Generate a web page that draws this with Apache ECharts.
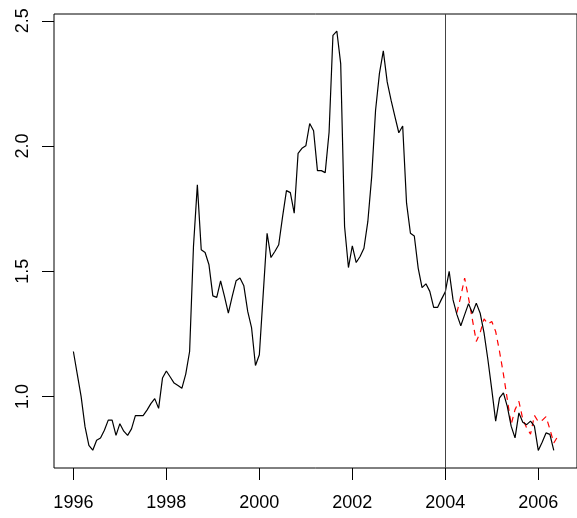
<!DOCTYPE html>
<html>
<head>
<meta charset="utf-8">
<script src="https://cdn.jsdelivr.net/npm/echarts@6/dist/echarts.min.js"></script>
<style>
  html, body { margin: 0; padding: 0; background: #fff; }
  #chart { width: 577px; height: 518px; }
</style>
</head>
<body>
<div id="chart"></div>
<script>
    // monthly series, starts Jan 1996
    const startYear = 1996;
    const freq = 12;

    // observed values (black line)
    const observed = [
        1.18, 1.09, 1.00, 0.88, 0.805, 0.786, 0.826, 0.835, 0.866, 0.906, 0.906, 0.845,
        0.892, 0.862, 0.845, 0.871, 0.924, 0.924, 0.924, 0.946, 0.972, 0.992, 0.953, 1.074,
        1.102, 1.078, 1.054, 1.044, 1.033, 1.09, 1.18, 1.60, 1.845, 1.586, 1.575, 1.526,
        1.402, 1.396, 1.462, 1.40, 1.333, 1.40, 1.462, 1.473, 1.442, 1.34, 1.274, 1.124,
        1.167, 1.41, 1.652, 1.555, 1.579, 1.606, 1.718, 1.822, 1.814, 1.732, 1.971, 1.991,
        2.001, 2.09, 2.061, 1.902, 1.902, 1.894, 2.055, 2.442, 2.459, 2.329, 1.679, 1.515,
        1.602, 1.535, 1.559, 1.592, 1.698, 1.878, 2.143, 2.29, 2.38, 2.256, 2.183, 2.117,
        2.053, 2.08, 1.772, 1.652, 1.641, 1.513, 1.435, 1.45, 1.42, 1.356, 1.356, 1.388,
        1.418, 1.50, 1.386, 1.327, 1.283, 1.327, 1.371, 1.333, 1.373, 1.333, 1.254, 1.147,
        1.028, 0.902, 0.995, 1.015, 0.961, 0.882, 0.835, 0.935, 0.898, 0.888, 0.902, 0.882,
        0.785, 0.818, 0.855, 0.849, 0.785
    ];

    // predicted values (red dashed), first point is month index 99
    const predStart = 99;
    const predicted = [
        1.335, 1.40, 1.473, 1.393, 1.307, 1.22, 1.255, 1.31, 1.29,
        1.30, 1.26, 1.18, 1.09, 0.99, 0.888, 0.948, 0.981, 0.91, 0.875, 0.85, 0.925,
        0.90, 0.905, 0.92, 0.87, 0.815, 0.84
    ];

    const xTicks = [1996, 1998, 2000, 2002, 2004, 2006];
    const yTicks = [1.0, 1.5, 2.0, 2.5];
    const splitYear = 2004;

    const toPairs = (vals, offset) => vals.map((v, i) => [startYear + (offset + i) / freq, v]);

    let myChart = echarts.init(document.getElementById("chart"));

    const font = { fontFamily: 'Liberation Sans', fontSize: 18, color: '#000' };

    let option = {
        animation: false,
        backgroundColor: '#fff',
        grid: {
            show: true,
            left: 54, top: 14, right: -1, bottom: 50,
            borderColor: '#000', borderWidth: 1,
            backgroundColor: 'transparent'
        },
        xAxis: {
            type: 'value',
            min: 1995.583, max: 2006.833,
            axisLine: { show: false },
            splitLine: { show: false },
            axisTick: { show: true, inside: false, length: 12, customValues: xTicks,
                lineStyle: { color: '#000' } },
            axisLabel: Object.assign({
                customValues: xTicks, margin: 26,
                formatter: v => String(v)
            }, font)
        },
        yAxis: {
            type: 'value',
            min: 0.715, max: 2.527,
            axisLine: { show: false },
            splitLine: { show: false },
            axisTick: { show: true, inside: false, length: 12, customValues: yTicks,
                lineStyle: { color: '#000' } },
            axisLabel: Object.assign({
                customValues: yTicks, rotate: 90, margin: 22,
                formatter: v => v.toFixed(1)
            }, font)
        },
        series: [
            {
                type: 'line',
                data: toPairs(observed, 0),
                showSymbol: false,
                lineStyle: { color: '#000', width: 1.2 },
                z: 3,
                markLine: {
                    silent: true,
                    symbol: 'none',
                    label: { show: false },
                    lineStyle: { color: '#444', width: 1, type: 'solid' },
                    data: [{ xAxis: splitYear }]
                }
            },
            {
                type: 'line',
                data: toPairs(predicted, predStart),
                showSymbol: false,
                lineStyle: { color: '#ff0000', width: 1.2, type: [6, 5] },
                z: 2
            }
        ]
    };

    myChart.setOption(option);
</script>
</body>
</html>
